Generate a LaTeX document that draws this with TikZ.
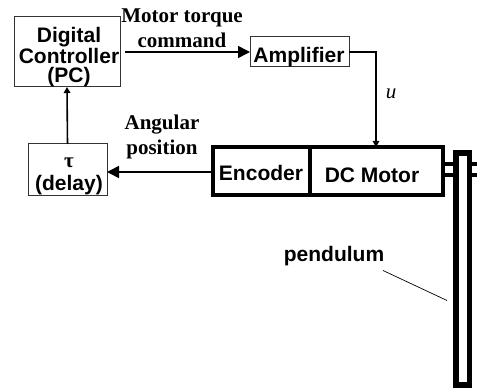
\documentclass[tikz,border=0pt]{standalone}
\usepackage{fontspec}
\setmainfont{Liberation Sans}
\newfontfamily\serifface{Liberation Serif}
\usetikzlibrary{arrows.meta}

\begin{document}
\begin{tikzpicture}[x=1pt,y=-1pt,
        thinbox/.style={draw=black!80,line width=1pt,inner sep=0pt,outer sep=0pt},
        thickbox/.style={draw=black,line width=4.8pt,inner sep=0pt,outer sep=0pt,minimum height=48pt},
        boxtext/.style={align=center,inner sep=0pt,font=\fontsize{21}{18.5}\selectfont\bfseries},
        caption/.style={align=center,inner sep=0pt,font=\fontsize{21}{25}\selectfont\serifface\bfseries},
        bigline/.style={line width=1.6pt,-{Triangle[length=12pt,width=12pt]}},
        smallline/.style={line width=1.6pt,-{Triangle[length=6pt,width=6.5pt]}}]
    \useasboundingbox (0,0) rectangle (477,390);

    % Signal chain boxes
    \node[thinbox,minimum width=106pt,minimum height=70pt] (controller) at (67,52) {};
    \node[thinbox,minimum width=99pt,minimum height=30pt] (amplifier) at (299.5,52) {};
    \node[thinbox,minimum width=79pt,minimum height=52pt] (delay) at (67.5,170) {};
    \node[boxtext] (controllertext) at (69,57) {Digital\\Controller\\(PC)};
    \node[boxtext] (amplifiertext) at (299,57) {Amplifier};
    \node[boxtext,font=\fontsize{21}{23}\selectfont\bfseries] (delaytext) at (69,176) {{\serifface τ}\\(delay)};

    % Motor assembly
    \node[thickbox,minimum width=97pt] (encoder) at (261.5,171) {};
    \node[thickbox,minimum width=133pt] (motor) at (376.5,171) {};
    \node[boxtext] (encodertext) at (261,172.5) {Encoder};
    \node[boxtext] (motortext) at (372,175) {DC Motor};

    % Shaft and pendulum
    \draw[line width=4pt] (443,164.5) -- (477,164.5) (443,175.5) -- (477,175.5);
    \node[draw=black,fill=white,line width=5.5pt,inner sep=0pt,outer sep=0pt,
        minimum width=13.5pt,minimum height=232pt] (rod) at (462.75,269) {};

    % Signals
    \coordinate (ctrlout) at (125,52);
    \draw[bigline] (ctrlout) -- (amplifier.west);
    \draw[smallline] (amplifier.east) -| (motor.north -| 376,0);
    \draw[bigline] (encoder.west |- 0,172) -- (delay.east |- 0,172);
    \draw[smallline] (delay.north) -- (controller.south);

    % Labels
    \node[caption] (torque) at (182,28) {Motor torque\\command};
    \node[caption] (angular) at (162,137) {Angular\\position};
    \node[inner sep=0pt,font=\fontsize{21}{22}\selectfont\serifface\itshape] (u) at (391,94) {u};
    \node[boxtext] (pendulum) at (334,256) {pendulum};
    \coordinate (rodleft) at (447,300.5);
    \draw[line width=.7pt] (383,270.5) -- (rodleft);
\end{tikzpicture}
\end{document}
